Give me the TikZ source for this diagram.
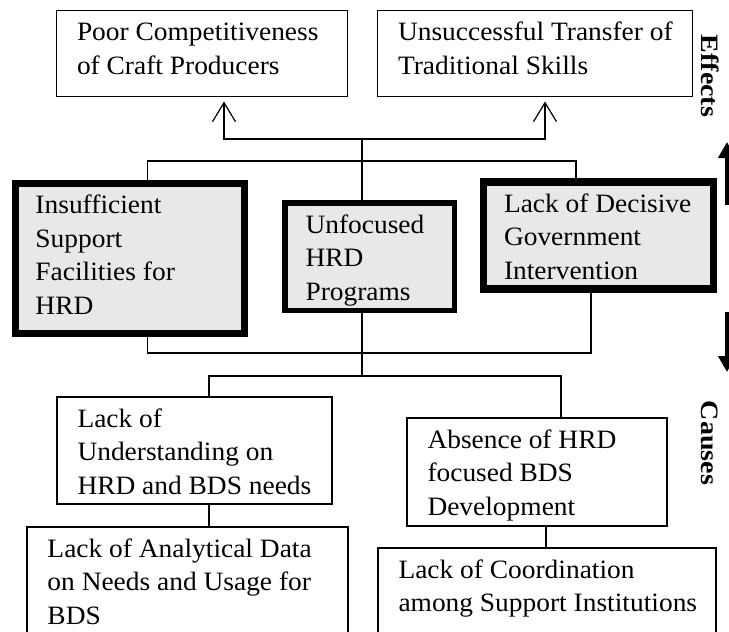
\documentclass[tikz,border=0pt]{standalone}
\usepackage{fontspec}
\setmainfont{Liberation Serif}
\newfontfamily\bodyfont[FakeStretch=1.035]{Liberation Serif}
\newfontfamily\sidefont[FakeStretch=1.12]{Liberation Serif}
\usetikzlibrary{arrows.meta}

% text block of a box: fixed width and height, first baseline 30pt below the top
\newcommand\cellbody[3]{\parbox[t][#2][t]{#1}{\raggedright\leftskip=20.5pt\relax
  \noindent\rule{0pt}{30pt}#3}}

\definecolor{cellgray}{RGB}{232,232,232}

\tikzset{
  cell/.style={draw, inner sep=0pt, outer sep=0pt, anchor=north west,
    line width=1.3pt, font=\bodyfont\fontsize{26.5pt}{33.5pt}\selectfont},
  keycell/.style={cell, fill=cellgray},
  link/.style={line width=1.2pt},
  effect link/.style={link, shorten >=5pt,
    -{Straight Barb[length=19pt, width=23pt, line width=1.2pt]}},
  side label/.style={rotate=-90, inner sep=0pt,
    font=\sidefont\bfseries\fontsize{25pt}{30pt}\selectfont},
  direction/.style={line width=5pt,
    -{Triangle[length=16pt, width=17pt]}},
}

\begin{document}
\begin{tikzpicture}[x=1pt, y=-1pt]
\useasboundingbox (0,0) rectangle (729,632);
\clip (0,0) rectangle (729,632);

% effects
\node[cell] (tl) at (56.5,10.5) {\cellbody{291pt}{86pt}{Poor Competitiveness\\of Craft Producers}};
\node[cell] (tr) at (377.5,10.5) {\cellbody{315pt}{86pt}{Unsuccessful Transfer of\\Traditional Skills}};

% core problems
\node[keycell, line width=7pt] (l) at (15,183.5) {\cellbody{229.5pt}{150pt}{Insufficient\\Support\\Facilities for\\HRD}};
\node[keycell, line width=5.5pt] (c) at (285,203) {\cellbody{169.5pt}{107.5pt}{Unfocused\\HRD\\Programs}};
\node[keycell, line width=7.5pt] (r) at (483.5,182) {\cellbody{230pt}{107pt}{Lack of Decisive\\Government\\Intervention}};

% causes
\node[cell] (ll) at (57,397) {\cellbody{275pt}{107pt}{Lack of\\Understanding on\\HRD and BDS needs}};
\node[cell] (ab) at (407,418) {\cellbody{260pt}{108pt}{Absence of HRD\\focused BDS\\Development}};
\node[cell] (bl) at (27,527) {\cellbody{321pt}{150pt}{Lack of Analytical Data\\on Needs and Usage for\\BDS}};
\node[cell] (br) at (378,548) {\cellbody{338pt}{150pt}{Lack of Coordination\\among Support Institutions}};

% junction points on the central spine
\coordinate (hubE) at (362,139);
\coordinate (hubC) at (362,161);
\coordinate (hubL) at (362,353);
\coordinate (hubM) at (362,376);

% upper connectors
\draw[link] (hubE) -- (hubE |- c.north);
\draw[effect link] (hubE) -| ([xshift=22pt]tl.south);
\draw[effect link] (hubE) -| ([xshift=10pt]tr.south);
\draw[link] ([xshift=18pt]l.north) |- (hubC) -| ([xshift=-22.5pt]r.north);

% lower connectors
\draw[link] ([xshift=18pt]l.south) |- (hubL) -| ([xshift=-7.5pt]r.south);
\draw[link] (c.south -| hubM) -- (hubM);
\draw[link] ([xshift=14.5pt]ll.north) |- (hubM) -| ([xshift=24pt]ab.north);
\draw[link] ([xshift=14.5pt]ll.south) -- ([xshift=14.5pt]ll.south |- bl.north);
\draw[link] ([xshift=9pt]ab.south) -- ([xshift=9pt]ab.south |- br.north);

% side labels and direction arrows
\node[side label] (eff) at (710,76) {Effects};
\node[side label] (cau) at (710,443) {Causes};
\coordinate (upA) at (727,205);
\coordinate (upB) at (727,142);
\coordinate (dnA) at (727,312);
\coordinate (dnB) at (727,372);
\draw[direction] (upA) -- (upB);
\draw[direction] (dnA) -- (dnB);
\end{tikzpicture}
\end{document}
